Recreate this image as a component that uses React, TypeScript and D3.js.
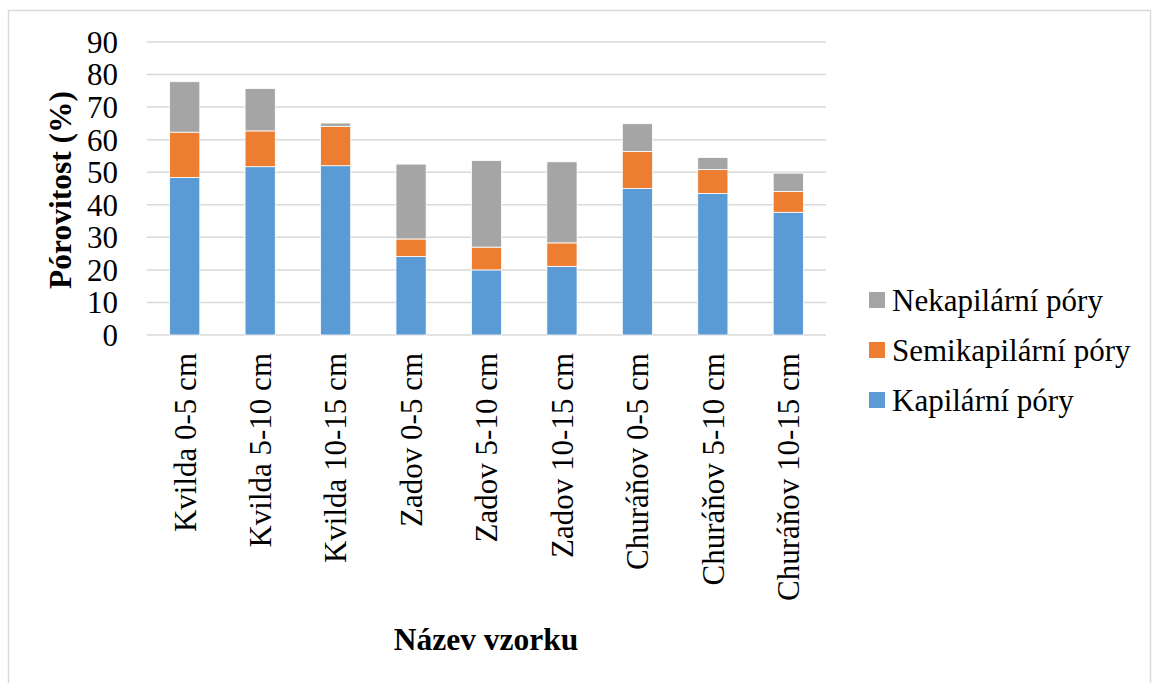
import React from "react";
import * as d3 from "d3";

const categories = [
  "Kvilda 0-5 cm",
  "Kvilda 5-10 cm",
  "Kvilda 10-15 cm",
  "Zadov 0-5 cm",
  "Zadov 5-10 cm",
  "Zadov 10-15 cm",
  "Churáňov 0-5 cm",
  "Churáňov 5-10 cm",
  "Churáňov 10-15 cm",
];
const kapilarni = [48.4, 51.7, 52.0, 24.1, 20.0, 21.1, 45.0, 43.5, 37.7];
const semikapilarni = [13.9, 11.0, 12.1, 5.4, 7.0, 7.2, 11.4, 7.3, 6.4];
const nekapilarni = [15.5, 13.0, 1.0, 23.0, 26.6, 24.9, 8.5, 3.7, 5.6];
const seriesNames = ["Kapilární póry", "Semikapilární póry", "Nekapilární póry"];
const seriesColors = ["#5B9BD5", "#ED7D31", "#A5A5A5"];
const yTicks = [0, 10, 20, 30, 40, 50, 60, 70, 80, 90];

const W = 1152;
const H = 683;
const plot = { left: 147, right: 826, top: 42, bottom: 335 };
const serif = { fontFamily: '"Liberation Serif"' };

export default function App() {
  const rows = categories.map((c, i) => ({
    cat: c,
    k: kapilarni[i],
    s: semikapilarni[i],
    n: nekapilarni[i],
  }));
  const stack = d3.stack<any>().keys(["k", "s", "n"])(rows);

  const x = d3
    .scaleBand()
    .domain(categories)
    .range([plot.left, plot.right])
    .paddingInner(0.6)
    .paddingOuter(0.3);
  const y = d3.scaleLinear().domain([0, 90]).range([plot.bottom, plot.top]);

  // legend listed in reverse (top = last series)
  const legendOrder = [2, 1, 0];

  return (
    <svg width={W} height={H} style={{ position: "absolute", left: 0, top: 0, background: "#fff" }}>
      <rect x={8.5} y={10.5} width={1142} height={680} fill="#fff" stroke="#D9D9D9" strokeWidth={1.5} />

      {yTicks.map((t) => (
        <g key={t}>
          <line x1={plot.left} x2={plot.right} y1={y(t)} y2={y(t)} stroke="#D9D9D9" strokeWidth={1.5} />
          <text x={118} y={y(t)} dy="0.35em" textAnchor="end" fontSize={31} fill="#000" style={serif}>
            {t}
          </text>
        </g>
      ))}

      {stack.map((layer, li) => (
        <g key={li} fill={seriesColors[li]} stroke="#fff" strokeWidth={0.8}>
          {layer.map((d: any, i: number) => (
            <rect
              key={i}
              x={x(categories[i])}
              width={x.bandwidth()}
              y={y(d[1])}
              height={y(d[0]) - y(d[1])}
            />
          ))}
        </g>
      ))}

      {categories.map((c) => (
        <text
          key={c}
          transform={`translate(${(x(c) as number) + x.bandwidth() / 2},353) rotate(-90)`}
          textAnchor="end"
          dy="0.35em"
          fontSize={31}
          fill="#000"
          style={serif}
        >
          {c}
        </text>
      ))}

      <text
        transform="translate(71,190) rotate(-90)"
        textAnchor="middle"
        fontSize={31.5}
        fontWeight="bold"
        fill="#000"
        style={serif}
      >
        Pórovitost (%)
      </text>

      <text x={486} y={650} textAnchor="middle" fontSize={31.5} fontWeight="bold" fill="#000" style={serif}>
        Název vzorku
      </text>

      {legendOrder.map((si, i) => (
        <g key={si} transform={`translate(869,${300 + i * 50})`}>
          <rect x={0} y={-8} width={16} height={16} fill={seriesColors[si]} />
          <text x={23} y={0} dy="0.35em" fontSize={31} fill="#000" style={serif}>
            {seriesNames[si]}
          </text>
        </g>
      ))}
    </svg>
  );
}
